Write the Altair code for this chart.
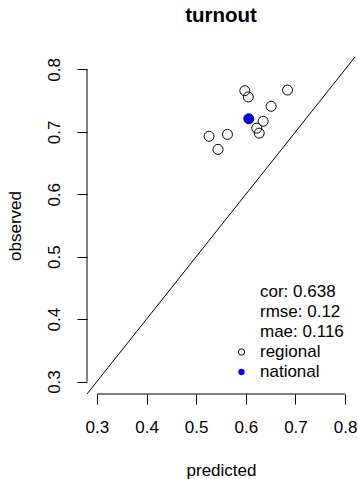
import altair as alt
import pandas as pd

# ---- data ----
pred_regional = [0.598, 0.605, 0.684, 0.651, 0.635, 0.622, 0.627, 0.526, 0.563, 0.544]
obs_regional = [0.766, 0.756, 0.767, 0.741, 0.717, 0.706, 0.698, 0.693, 0.696, 0.672]
pred_national = [0.606]
obs_national = [0.721]
tick_values = [0.3, 0.4, 0.5, 0.6, 0.7, 0.8]
axis_domain = [0.28, 0.82]
stats_lines = ["cor: 0.638", "rmse: 0.12", "mae: 0.116"]
legend_labels = ["regional", "national"]
chart_title = "turnout"

FONT = "Liberation Sans"
W, H = 268, 337

regional = pd.DataFrame({"predicted": pred_regional, "observed": obs_regional})
national = pd.DataFrame({"predicted": pred_national, "observed": obs_national})
diag = pd.DataFrame({"predicted": axis_domain, "observed": axis_domain})
span = pd.DataFrame({"lo": [min(tick_values)], "hi": [max(tick_values)]})

xscale = alt.Scale(domain=axis_domain, nice=False, zero=False)
yscale = alt.Scale(domain=axis_domain, nice=False, zero=False)

xaxis = alt.Axis(values=tick_values, format=".1f", domain=False, grid=False,
                 tickSize=10, tickColor="black", tickWidth=1,
                 labelFont=FONT, labelFontSize=17, labelColor="black",
                 labelPadding=15, labelFlush=False,
                 title="predicted", titleFont=FONT, titleFontSize=17,
                 titleFontWeight="normal", titleColor="black",
                 titleBaseline="alphabetic", titleY=81)
yaxis = alt.Axis(values=tick_values, format=".1f", domain=False, grid=False,
                 tickSize=10, tickColor="black", tickWidth=1,
                 labelFont=FONT, labelFontSize=17, labelColor="black",
                 labelAngle=270, labelAlign="center", labelBaseline="alphabetic",
                 labelPadding=18, labelFlush=False,
                 title="observed", titleFont=FONT, titleFontSize=17,
                 titleFontWeight="normal", titleColor="black",
                 titleAngle=270, titleAlign="center", titleBaseline="alphabetic",
                 titleX=-67, titleY=H / 2)

line = alt.Chart(diag).mark_line(color="black", strokeWidth=1).encode(
    x=alt.X("predicted:Q", scale=xscale, axis=xaxis),
    y=alt.Y("observed:Q", scale=yscale, axis=yaxis),
)

pts = alt.Chart(regional).mark_point(shape="circle", filled=False, color="black",
                                     size=100, strokeWidth=1, opacity=1).encode(
    x=alt.X("predicted:Q", scale=xscale),
    y=alt.Y("observed:Q", scale=yscale),
)

nat = alt.Chart(national).mark_point(shape="circle", filled=True, fill="#0000ff",
                                     stroke="#000066", strokeWidth=1,
                                     size=100, opacity=1).encode(
    x=alt.X("predicted:Q", scale=xscale),
    y=alt.Y("observed:Q", scale=yscale),
)

xline = alt.Chart(span).mark_rule(color="black", strokeWidth=1).encode(
    x=alt.X("lo:Q", scale=xscale), x2="hi:Q", y=alt.value(H)
)
yline = alt.Chart(span).mark_rule(color="black", strokeWidth=1).encode(
    y=alt.Y("lo:Q", scale=yscale), y2="hi:Q", x=alt.value(0)
)

title = alt.Chart(pd.DataFrame({"t": [chart_title]})).mark_text(
    font=FONT, fontSize=20.5, fontWeight="bold", align="center",
    baseline="alphabetic", color="black"
).encode(text="t:N", x=alt.value(W / 2), y=alt.value(-35.5))

layers = [line, xline, yline, pts, nat, title]

text_x = 173
for i, s in enumerate(stats_lines + legend_labels):
    layers.append(
        alt.Chart(pd.DataFrame({"t": [s]})).mark_text(
            font=FONT, fontSize=17, align="left", baseline="middle", color="black"
        ).encode(text="t:N", x=alt.value(text_x), y=alt.value(235 + 20 * i))
    )

sym_x = 154.5
layers.append(
    alt.Chart(pd.DataFrame({"t": [legend_labels[0]]})).mark_point(
        shape="circle", filled=False, color="black", size=40, strokeWidth=1, opacity=1
    ).encode(x=alt.value(sym_x), y=alt.value(235 + 20 * 3))
)
layers.append(
    alt.Chart(pd.DataFrame({"t": [legend_labels[1]]})).mark_point(
        shape="circle", filled=True, color="#0000ff", size=40, opacity=1
    ).encode(x=alt.value(sym_x), y=alt.value(235 + 20 * 4))
)

chart = alt.layer(*layers).properties(
    width=W, height=H,
    background="white",
    autosize=alt.AutoSizeParams(type="none"),
    padding={"left": 87, "top": 57, "right": 3, "bottom": 85},
).configure_view(strokeWidth=0, stroke="transparent")

chart.save("out.html", embed_options={"renderer": "svg", "actions": False})
